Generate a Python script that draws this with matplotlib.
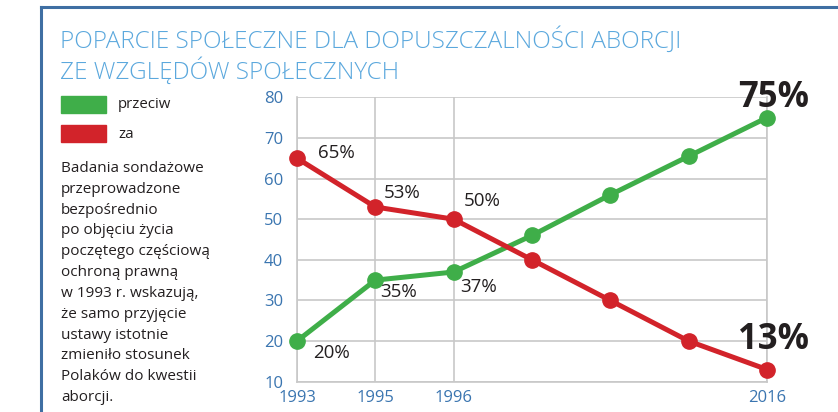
import matplotlib
matplotlib.use("Agg")
import matplotlib.pyplot as plt
from matplotlib.lines import Line2D
from matplotlib.patches import Rectangle

# dane
lata = ["1993", "1995", "1996", "", "", "", "2016"]
przeciw = [20, 35, 37, 46, 56, 65.5, 75]
za = [65, 53, 50, 40, 30, 20, 13]
etykiety_przeciw = ["20%", "35%", "37%", "", "", "", "75%"]
etykiety_za = ["65%", "53%", "50%", "", "", "", "13%"]
y_ticks = [10, 20, 30, 40, 50, 60, 70, 80]

GREEN = "#3fae49"
RED = "#d2232a"
BLUE = "#3a75b0"
TITLE_BLUE = "#5ba8dd"
DARK = "#231f20"
GRID = "#c8c8c8"

plt.rcParams['font.family'] = ['Open Sans', 'DejaVu Sans']

fig = plt.figure(figsize=(8.38, 4.12), dpi=100)
W, H = 838, 412

# ramka (lewa i gorna krawedz)
fig.add_artist(Line2D([41 / W, 41 / W], [0, 1 - 7 / H], color="#3f6fa3", lw=2.2))
fig.add_artist(Line2D([41 / W, 1], [1 - 7 / H, 1 - 7 / H], color="#3f6fa3", lw=2.2))

# tytul
fig.text(60 / W, 1 - 27 / H, "POPARCIE SPOŁECZNE DLA DOPUSZCZALNOŚCI ABORCJI\nZE WZGLĘDÓW SPOŁECZNYCH",
         family=["Open Sans", "DejaVu Sans"], fontweight="light", fontsize=17.5, color=TITLE_BLUE,
         va="top", ha="left", linespacing=1.18)

# legenda
fig.add_artist(Rectangle((61 / W, 1 - 113 / H), 45 / W, 17 / H, color=GREEN, transform=fig.transFigure))
fig.add_artist(Rectangle((61 / W, 1 - 142 / H), 45 / W, 17 / H, color=RED, transform=fig.transFigure))
fig.text(118 / W, 1 - 104 / H, "przeciw", fontsize=10.8, color=DARK, va="center")
fig.text(118 / W, 1 - 134 / H, "za", fontsize=10.8, color=DARK, va="center")

opis = ("Badania sondażowe\nprzeprowadzone\nbezpośrednio\npo objęciu życia\n"
        "poczętego częściową\nochroną prawną\nw 1993 r. wskazują,\nże samo przyjęcie\n"
        "ustawy istotnie\nzmieniło stosunek\nPolaków do kwestii\naborcji.")
fig.text(61 / W, 1 - 161 / H, opis, fontsize=11, color=DARK, va="top", ha="left", linespacing=1.53)

ax = fig.add_axes([297 / W, 1 - 381.7 / H, 470 / W, (381.7 - 97.3) / H])
x = list(range(len(lata)))

ax.plot(x, przeciw, color=GREEN, lw=3.6, marker="o", ms=11, clip_on=False, zorder=3)
ax.plot(x, za, color=RED, lw=3.6, marker="o", ms=11, clip_on=False, zorder=3)

ax.set_xlim(0, 6)
ax.set_ylim(10, 80)
ax.set_yticks(y_ticks)
ax.set_xticks([i for i in x if lata[i]])
ax.set_xticklabels([l for l in lata if l])
ax.tick_params(axis="both", length=0, colors=BLUE, labelsize=12)
ax.tick_params(axis="y", pad=10)
ax.tick_params(axis="x", pad=6)
ax.grid(True, color=GRID, lw=1.2)
ax.set_axisbelow(True)
for s in ax.spines.values():
    s.set_color(GRID)
    s.set_linewidth(1.2)
ax.spines["top"].set_visible(False)

# etykiety wartosci
offs_za = [(15, 3.6), (6, 10), (7, 13)]
offs_pr = [(11.5, -8.4), (3.6, -8.6), (5, -10.6)]
for i in range(3):
    ax.annotate(etykiety_za[i], (x[i], za[i]), xytext=offs_za[i], textcoords="offset points",
                fontsize=13.5, color=DARK, ha="left", va="center")
    ax.annotate(etykiety_przeciw[i], (x[i], przeciw[i]), xytext=offs_pr[i], textcoords="offset points",
                fontsize=13.5, color=DARK, ha="left", va="center")
ax.annotate(etykiety_przeciw[6], (x[6], przeciw[6]), xytext=(5, 14), textcoords="offset points",
            fontsize=25, fontweight="bold", color=DARK, ha="center", va="center")
ax.annotate(etykiety_za[6], (x[6], za[6]), xytext=(5, 21), textcoords="offset points",
            fontsize=25, fontweight="bold", color=DARK, ha="center", va="center")

fig.savefig("out.png", dpi=100)
